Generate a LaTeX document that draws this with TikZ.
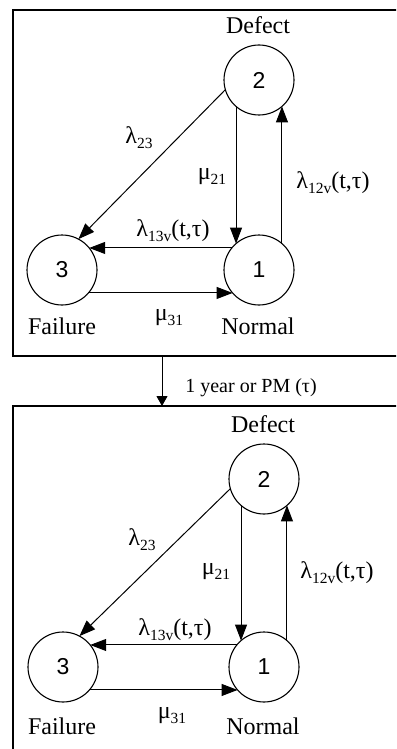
\documentclass[tikz,border=0pt]{standalone}
\usepackage{fontspec}
\setmainfont{Liberation Serif}
\newfontfamily\numfont{Liberation Sans}
\usetikzlibrary{arrows.meta}
\newcommand\lowsub[1]{\raisebox{-5pt}{\fontsize{15.5}{15.5}\selectfont #1}}
\begin{document}
\begin{tikzpicture}[x=1pt,y=-1pt,
  state/.style={draw,circle,minimum size=70pt,inner sep=0pt,outer sep=0pt,line width=1.1pt,font=\numfont\fontsize{23}{23}\selectfont},
  lbl/.style={font=\fontsize{24}{24}\selectfont,inner sep=0pt},
  rate/.style={font=\fontsize{24}{24}\selectfont,inner sep=0pt},
  tr/.style={line width=1pt,-{Triangle[length=16pt,width=12pt]}},
  frame/.style={draw,line width=1.2pt,inner sep=0pt,outer sep=0pt,anchor=north west}]
\clip (0,0) rectangle (396,749);
\fill[white] (0,0) rectangle (396,749);
% frames
\node[frame,minimum width=420pt,minimum height=346pt] (box1) at (13,10) {};
\node[frame,minimum width=420pt,minimum height=400pt] (box2) at (13,406) {};
\coordinate (ax) at (162,0);
\draw[line width=1pt,-{Triangle[length=10pt,width=11pt]}] (box1.south -| ax) -- (box2.north -| ax);
\node[font=\fontsize{20}{20}\selectfont,inner sep=0pt] (pm) at (251,388) {1 year or PM (τ)};
% top diagram
\node[state] (t2) at (259,80) {2};
\node[state] (t1) at (259,270) {1};
\node[state] (t3) at (62,270) {3};
\draw[tr] (t2.229) -- (t1.131);
\draw[tr] (t1.49) -- (t2.-49);
\draw[tr] (t1.141) -- (t3.39);
\draw[tr] (t3.-41) -- (t1.221);
\draw[tr] (t2.196) -- (t3.62);
\node[lbl,anchor=base] (td) at (258,34) {Defect};
\node[lbl,anchor=base] (tf) at (62,334) {Failure};
\node[lbl,anchor=base] (tn) at (258,334) {Normal};
\node[rate] (tl23) at (139,138) {λ\lowsub{23}};
\node[rate] (tm21) at (212,177) {μ\lowsub{21}};
\node[rate] (tl12) at (333,183) {λ\lowsub{12v}(t,τ)};
\node[rate] (tl13) at (173,231) {λ\lowsub{13v}(t,τ)};
\node[rate] (tm31) at (169,318) {μ\lowsub{31}};
% bottom diagram
\node[state] (b2) at (264,479) {2};
\node[state] (b1) at (264,667) {1};
\node[state] (b3) at (63,667) {3};
\draw[tr] (b2.229) -- (b1.131);
\draw[tr] (b1.49) -- (b2.-49);
\draw[tr] (b1.141) -- (b3.39);
\draw[tr] (b3.-41) -- (b1.221);
\draw[tr] (b2.196) -- (b3.62);
\node[lbl,anchor=base] (bd) at (263,432) {Defect};
\node[lbl,anchor=base] (bf) at (62,734) {Failure};
\node[lbl,anchor=base] (bn) at (263,734) {Normal};
\node[rate] (bl23) at (142,540) {λ\lowsub{23}};
\node[rate] (bm21) at (216,572) {μ\lowsub{21}};
\node[rate] (bl12) at (337,573) {λ\lowsub{12v}(t,τ)};
\node[rate] (bl13) at (175,630) {λ\lowsub{13v}(t,τ)};
\node[rate] (bm31) at (172,716) {μ\lowsub{31}};
\end{tikzpicture}
\end{document}
